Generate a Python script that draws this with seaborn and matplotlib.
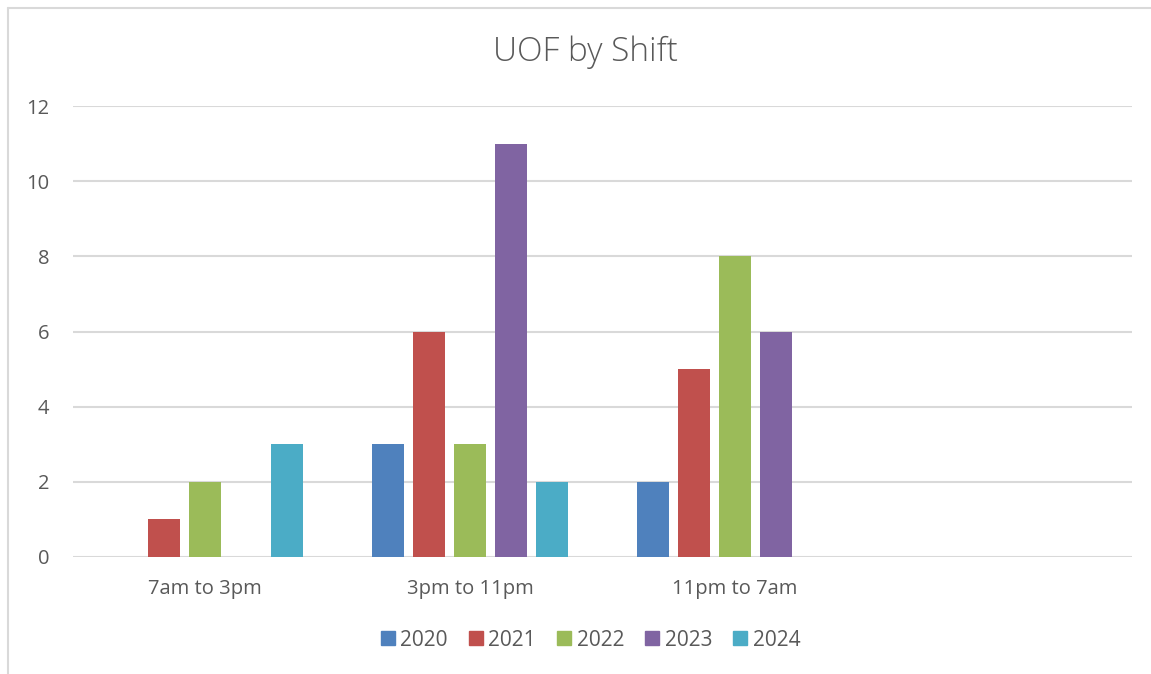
import pandas as pd
import matplotlib.pyplot as plt
import seaborn as sns
from matplotlib.lines import Line2D

# Data
shifts = ['7am to 3pm', '3pm to 11pm', '11pm to 7am']
years = ['2020', '2021', '2022', '2023', '2024']
y2020 = [0, 3, 2]
y2021 = [1, 6, 5]
y2022 = [2, 3, 8]
y2023 = [0, 11, 6]
y2024 = [3, 2, 0]
colors = ['#4F81BD', '#C0504D', '#9BBB59', '#8064A2', '#4BACC6']

rows = []
for year, vals in zip(years, [y2020, y2021, y2022, y2023, y2024]):
    for shift, v in zip(shifts, vals):
        rows.append({'shift': shift, 'year': year, 'count': v})
df = pd.DataFrame(rows)

sns.set_style("white")
plt.rcParams['font.family'] = ['Open Sans', 'DejaVu Sans']

fig = plt.figure(figsize=(11.51, 6.74), dpi=100)
ax = fig.add_axes([73 / 1151, 1 - 557 / 674, (1132 - 73) / 1151, (557 - 106) / 674])

sns.barplot(data=df, x='shift', y='count', hue='year', order=shifts,
            hue_order=years, palette=colors, width=0.775, gap=0.22,
            linewidth=0, saturation=1, legend=False, ax=ax, zorder=3)

ax.set_xlim(-0.5, 3.5)
ax.set_ylim(0, 12)
ax.set_yticks(range(0, 13, 2))
ax.grid(axis='y', color='#D9D9D9', linewidth=1.5, zorder=0)
ax.set_axisbelow(True)
for s in ax.spines.values():
    s.set_visible(False)
ax.tick_params(axis='both', length=0, labelsize=14.5, labelcolor='#595959')
ax.tick_params(axis='y', pad=17)
ax.tick_params(axis='x', pad=16)
ax.set_xlabel('')
ax.set_ylabel('')

fig.text(585 / 1151, 1 - 52 / 674, 'UOF by Shift', ha='center', va='center',
         fontsize=24, color='#595959', fontweight='light')

handles = [Line2D([], [], marker='s', linestyle='', markersize=9.5,
                  markerfacecolor=c, markeredgecolor=c) for c in colors]
fig.legend(handles, years, loc='center', bbox_to_anchor=(589 / 1151, 1 - 640 / 674),
           ncol=5, frameon=False, fontsize=15, labelcolor='#595959',
           handletextpad=0.1, columnspacing=0.85, handlelength=1.0)

# outer frame of the embedded chart
fig.add_artist(Line2D([8 / 1151, 8 / 1151], [0, 1 - 8 / 674], transform=fig.transFigure,
                      color='#D9D9D9', linewidth=1.5))
fig.add_artist(Line2D([8 / 1151, 1], [1 - 8 / 674, 1 - 8 / 674], transform=fig.transFigure,
                      color='#D9D9D9', linewidth=1.5))

fig.savefig('out.png', dpi=100)
